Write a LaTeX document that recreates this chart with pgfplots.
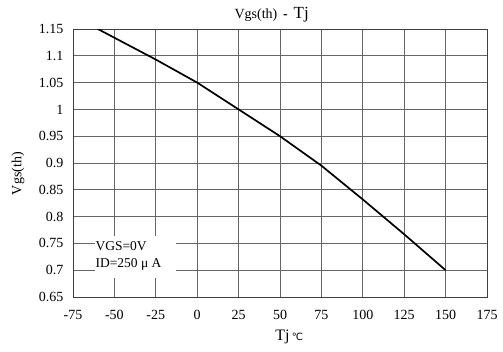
\documentclass[border=0pt]{standalone}
\usepackage{fontspec}
\setmainfont{Liberation Serif}
\newfontfamily\dejavu{DejaVu Sans}
\usepackage{pgfplots}
\pgfplotsset{compat=1.18}
\begin{document}
\begin{tikzpicture}
\useasboundingbox (-73pt,-54pt) rectangle (430pt,297pt);
\begin{axis}[
  scale only axis, width=414pt, height=268pt,
  xmin=-75, xmax=175, ymin=0.65, ymax=1.15,
  xtick={-75,-50,-25,0,25,50,75,100,125,150,175},
  ytick={0.65,0.7,0.75,0.8,0.85,0.9,0.95,1,1.05,1.1,1.15},
  /pgf/number format/assume math mode=true,
  xmajorgrids, ymajorgrids,
  grid style={draw=black!60, line width=0.7pt},
  axis line style={black!75, line width=0.8pt},
  major tick length=0pt,
  tick label style={font=\fontsize{14}{16}\selectfont},
  xticklabel style={yshift=-10pt},
  yticklabel style={xshift=-6pt},
  title={Vgs(th) {\fontsize{14}{16}\selectfont\bfseries\,-\,} {\fontsize{17}{19}\selectfont Tj}},
  title style={at={(axis description cs:0.48,1)}, anchor=center, yshift=8pt, font=\fontsize{14}{16}\selectfont},
  xlabel={{\fontsize{16}{18}\selectfont Tj} {\dejavu\fontsize{10}{12}\selectfont ℃}},
  xlabel style={at={(axis description cs:0.48,0)}, anchor=base west, yshift=-43pt},
  ylabel={Vgs(th)},
  ylabel style={at={(axis description cs:-0.133,0.46)}, anchor=center, font=\fontsize{14}{16}\selectfont},
]
\addplot[black, line width=1.7pt] coordinates {
  (-60,1.15) (-25,1.093) (0,1.05) (25,1.0) (50,0.95) (75,0.895) (100,0.832) (125,0.767) (150,0.70)
};
\fill[white] (axis cs:-62,0.686) rectangle (axis cs:-13,0.764);
\node[anchor=west, inner sep=0pt, font=\fontsize{13.5}{15}\selectfont] at (axis cs:-61.5,0.745) {VGS=0V};
\node[anchor=west, inner sep=0pt, font=\fontsize{13.5}{15}\selectfont] at (axis cs:-61.5,0.71) {ID=250 μ A};
\end{axis}
\end{tikzpicture}
\end{document}
